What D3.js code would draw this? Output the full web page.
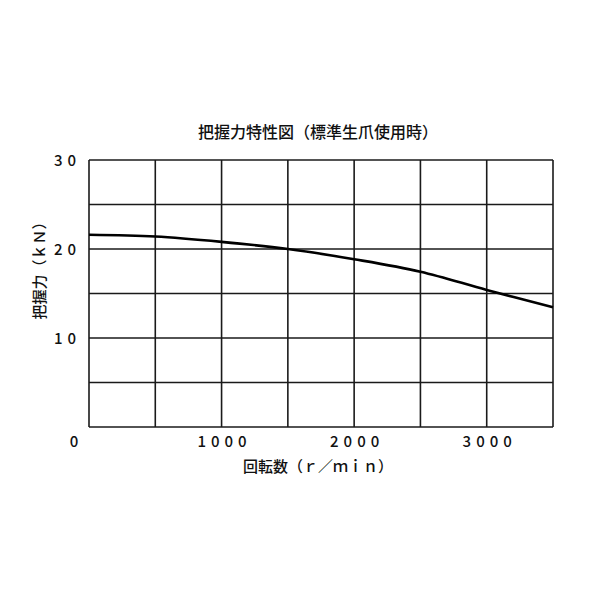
<!DOCTYPE html>
<html>
<head>
<meta charset="utf-8">
<script src="https://cdn.jsdelivr.net/npm/d3@7"></script>
<style>
  body { margin: 0; background: #fff; }
  text { font-family: "Noto Sans CJK JP", sans-serif; fill: #111; }
</style>
</head>
<body>
<div id="chart"></div>
<script>
// speed (r/min) vs gripping force (kN)
var speed = [0, 500, 1000, 1500, 2000, 2500, 3000, 3500];
var force = [21.6, 21.4, 20.8, 20.0, 18.85, 17.45, 15.4, 13.45];

var gridX = [0, 500, 1000, 1500, 2000, 2500, 3000, 3500];
var gridY = [0, 5, 10, 15, 20, 25, 30];
var xTickLabels = [1000, 2000, 3000];
var yTickLabels = [10, 20, 30];

var margin = { top: 160, right: 47, bottom: 173, left: 89 };
var width = 600 - margin.left - margin.right;
var height = 600 - margin.top - margin.bottom;

var svg = d3.select("#chart")
    .append("svg")
    .attr("width", 600)
    .attr("height", 600)
    .append("g")
    .attr("transform", `translate(${margin.left}, ${margin.top})`);

var x = d3.scaleLinear().domain([0, 3500]).range([0, width]);
var y = d3.scaleLinear().domain([0, 30]).range([height, 0]);

// grid
svg.append("g")
    .selectAll("line.v")
    .data(gridX)
    .enter()
    .append("line")
    .attr("x1", d => x(d)).attr("x2", d => x(d))
    .attr("y1", 0).attr("y2", height)
    .attr("stroke", "#1a1a1a").attr("stroke-width", 1.6);

svg.append("g")
    .selectAll("line.h")
    .data(gridY)
    .enter()
    .append("line")
    .attr("y1", d => y(d)).attr("y2", d => y(d))
    .attr("x1", 0).attr("x2", width)
    .attr("stroke", "#1a1a1a").attr("stroke-width", 1.6);

// tick labels
svg.append("g")
    .selectAll("text")
    .data(xTickLabels)
    .enter()
    .append("text")
    .attr("x", d => x(d) + 3)
    .attr("y", height + 20)
    .attr("text-anchor", "middle")
    .attr("font-size", 15)
    .attr("font-weight", 500)
    .attr("letter-spacing", 5)
    .text(d => d);

svg.append("g")
    .selectAll("text")
    .data(yTickLabels)
    .enter()
    .append("text")
    .attr("x", -8)
    .attr("y", d => y(d) + 6)
    .attr("text-anchor", "end")
    .attr("font-size", 15)
    .attr("font-weight", 500)
    .attr("letter-spacing", 5)
    .text(d => d);

svg.append("text")
    .attr("x", -15)
    .attr("y", height + 20)
    .attr("text-anchor", "middle")
    .attr("font-size", 15)
    .attr("font-weight", 500)
    .text("0");

// curve
var line = d3.line()
    .x((d, i) => x(speed[i]))
    .y(d => y(d))
    .curve(d3.curveCardinal);

svg.append("path")
    .datum(force)
    .attr("d", line)
    .attr("fill", "none")
    .attr("stroke", "#000")
    .attr("stroke-width", 2.6);

// titles
svg.append("text")
    .attr("x", 229)
    .attr("y", -22)
    .attr("text-anchor", "middle")
    .attr("font-size", 16)
    .attr("font-weight", 500)
    .text("把握力特性図（標準生爪使用時）");

svg.append("text")
    .attr("x", 229)
    .attr("y", height + 45)
    .attr("text-anchor", "middle")
    .attr("font-size", 15)
    .attr("font-weight", 500)
    .text("回転数（ｒ／ｍｉｎ）");

svg.append("text")
    .attr("transform", `translate(-44, ${107}) rotate(-90)`)
    .attr("text-anchor", "middle")
    .attr("font-size", 15)
    .attr("font-weight", 500)
    .text("把握力（ｋＮ）");
</script>
</body>
</html>
